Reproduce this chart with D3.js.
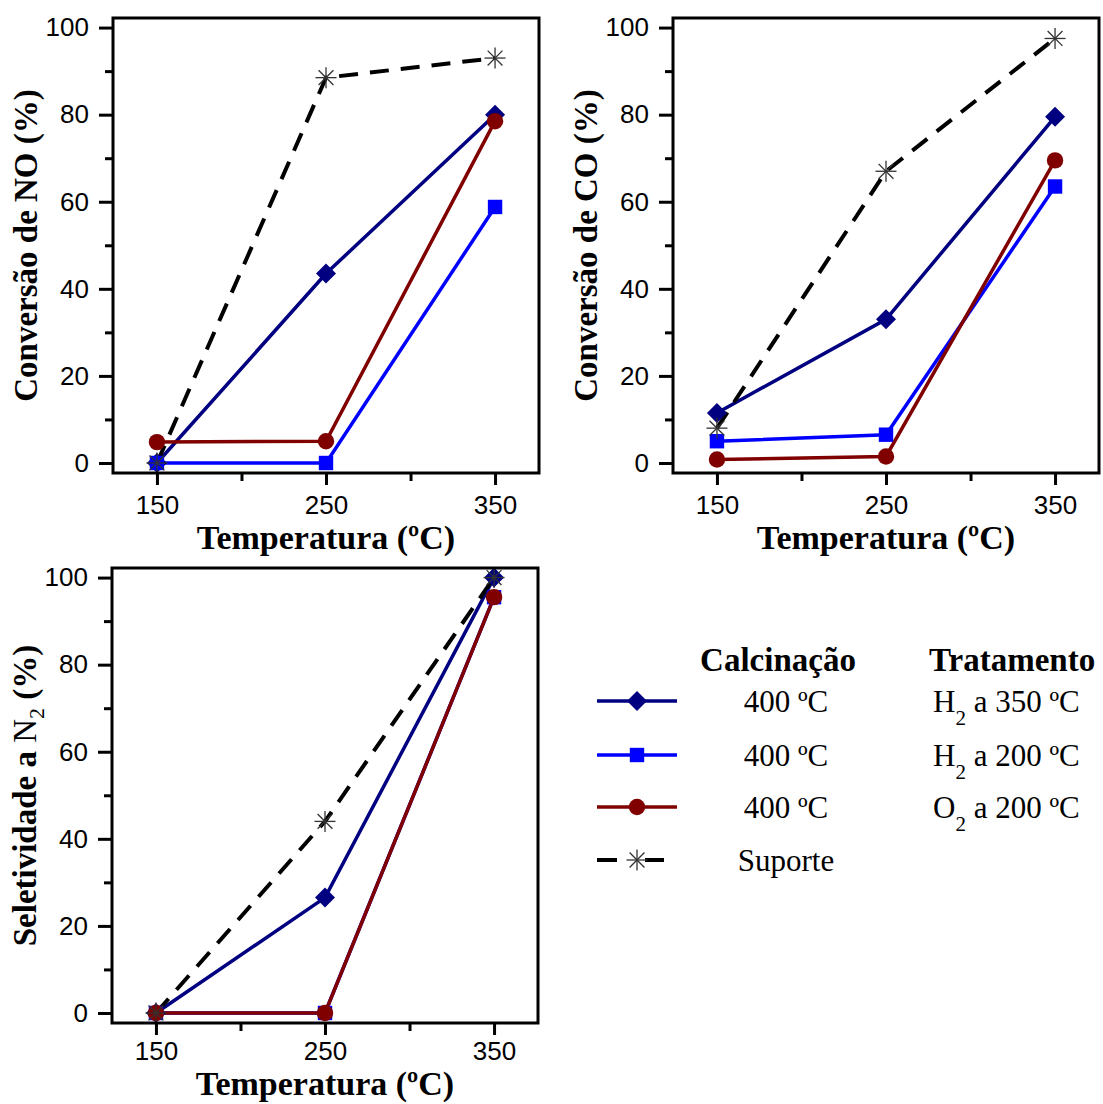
<!DOCTYPE html>
<html>
<head>
<meta charset="utf-8">
<script src="https://cdn.jsdelivr.net/npm/d3@7"></script>
<style>
  body { margin: 0; background: #fff; }
  svg { display: block; }
</style>
</head>
<body>
<div id="chart"></div>
<script>
// temperatures (ºC)
const temps = [150, 250, 350];

// Conversão de NO (%)
const noH2_350 = [0, 43.5, 80];
const noH2_200 = [0, 0, 58.8];
const noO2_200 = [4.8, 5.0, 78.5];
const noSuporte = [0, 88.5, 93];

// Conversão de CO (%)
const coH2_350 = [11.5, 33, 79.5];
const coH2_200 = [5, 6.5, 63.5];
const coO2_200 = [0.8, 1.5, 69.5];
const coSuporte = [8, 67, 97.5];

// Seletividade a N2 (%)
const n2H2_350 = [0, 26.5, 100];
const n2H2_200 = [0, 0, 95.5];
const n2O2_200 = [0, 0, 95.5];
const n2Suporte = [0, 44, 100];

const xTicks = [150, 250, 350];
const xMinor = [200, 300];
const yTicks = [0, 20, 40, 60, 80, 100];
const yMinor = [10, 30, 50, 70, 90];

const seriesStyle = [
  { name: "H2 a 350", color: "#000080", marker: "diamond" },
  { name: "H2 a 200", color: "#0000ff", marker: "square" },
  { name: "O2 a 200", color: "#800000", marker: "circle" },
  { name: "Suporte", color: "#000", marker: "star", dash: "19,12" }
];

const width = 1103, height = 1104;
const svg = d3.select("#chart").append("svg")
  .attr("width", width).attr("height", height);

const sansFont = "'Liberation Sans', Arial, sans-serif";
const serifFont = "'Liberation Serif', 'Times New Roman', serif";

function drawMarker(g, type, color, size) {
  if (type === "diamond") {
    g.append("path").attr("d", `M0,${-size}L${size},0L0,${size}L${-size},0Z`).attr("fill", color);
  } else if (type === "square") {
    let s = size * 0.72;
    g.append("rect").attr("x", -s).attr("y", -s).attr("width", 2 * s).attr("height", 2 * s).attr("fill", color);
  } else if (type === "circle") {
    g.append("circle").attr("r", size * 0.82).attr("fill", color);
  } else if (type === "star") {
    let r = size * 1.05;
    for (let a = 0; a < 4; a++) {
      let ang = a * Math.PI / 4;
      g.append("line")
        .attr("x1", -r * Math.cos(ang)).attr("y1", -r * Math.sin(ang))
        .attr("x2", r * Math.cos(ang)).attr("y2", r * Math.sin(ang))
        .attr("stroke", "#333").attr("stroke-width", 1.3);
    }
  }
}

function drawPanel(ox, oy, seriesData, titleParts, xTitleY, xPad) {
  const g = svg.append("g").attr("transform", `translate(${ox},${oy})`);
  const left = 113, right = 539, top = 18, bottom = 473;

  const x = d3.scaleLinear().domain([124, 376]).range([left, right]);
  const y = d3.scaleLinear().domain([-2.3, 102.2]).range([bottom, top]);

  // minor ticks
  g.append("g").attr("transform", `translate(0,${bottom})`)
    .call(d3.axisBottom(x).tickValues(xMinor).tickSize(8).tickSizeOuter(0).tickFormat(""))
    .call(a => a.select(".domain").remove());
  g.append("g").attr("transform", `translate(${left},0)`)
    .call(d3.axisLeft(y).tickValues(yMinor).tickSize(8).tickSizeOuter(0).tickFormat(""))
    .call(a => a.select(".domain").remove());

  // major ticks
  const xa = g.append("g").attr("transform", `translate(0,${bottom})`)
    .call(d3.axisBottom(x).tickValues(xTicks).tickSize(12).tickSizeOuter(0).tickPadding(xPad));
  const ya = g.append("g").attr("transform", `translate(${left},0)`)
    .call(d3.axisLeft(y).tickValues(yTicks).tickSize(14).tickSizeOuter(0).tickPadding(10));
  [xa, ya].forEach(a => {
    a.select(".domain").remove();
    a.selectAll("text").attr("font-family", sansFont).attr("font-size", 26).attr("fill", "#000");
  });
  g.selectAll(".tick line").attr("stroke", "#000").attr("stroke-width", 3);

  // series lines
  const line = d3.line().x((d, i) => x(temps[i])).y(d => y(d));
  seriesData.forEach((vals, k) => {
    const st = seriesStyle[k];
    g.append("path").datum(vals)
      .attr("d", line)
      .attr("fill", "none")
      .attr("stroke", st.color)
      .attr("stroke-width", st.dash ? 4 : 3.5)
      .attr("stroke-dasharray", st.dash || null);
  });
  seriesData.forEach((vals, k) => {
    const st = seriesStyle[k];
    vals.forEach((v, i) => {
      const m = g.append("g").attr("transform", `translate(${x(temps[i])},${y(v)})`);
      drawMarker(m, st.marker, st.color, 10);
    });
  });

  // frame
  g.append("rect")
    .attr("x", left).attr("y", top)
    .attr("width", right - left).attr("height", bottom - top)
    .attr("fill", "none").attr("stroke", "#000").attr("stroke-width", 3);

  // x title
  g.append("text")
    .attr("x", x(250)).attr("y", xTitleY)
    .attr("text-anchor", "middle")
    .attr("font-family", serifFont).attr("font-weight", "bold").attr("font-size", 34)
    .text("Temperatura (ºC)");

  // y title
  const yt = g.append("text")
    .attr("transform", `translate(37,${(top + bottom) / 2}) rotate(-90)`)
    .attr("text-anchor", "middle")
    .attr("font-family", serifFont).attr("font-weight", "bold").attr("font-size", 33);
  titleParts.forEach(p => {
    const t = yt.append("tspan").text(p.text);
    if (p.sub) t.attr("font-size", 22).attr("font-weight", "normal").attr("dy", 8);
    if (p.after) t.attr("dy", -8);
    if (p.normal) t.attr("font-weight", "normal");
  });
}

drawPanel(0, 0, [noH2_350, noH2_200, noO2_200, noSuporte], [{ text: "Conversão de NO (%)" }], 549, 11);
drawPanel(560, 0, [coH2_350, coH2_200, coO2_200, coSuporte], [{ text: "Conversão de CO (%)" }], 549, 11);
drawPanel(-1, 550, [n2H2_350, n2H2_200, n2O2_200, n2Suporte],
  [{ text: "Seletividade a " }, { text: "N", normal: true }, { text: "2", sub: true }, { text: " (%)", after: true }], 545, 7);

// legend
const calcinacao = ["400 ºC", "400 ºC", "400 ºC", "Suporte"];
const tratamento = [["H", "2", " a 350 ºC"], ["H", "2", " a 200 ºC"], ["O", "2", " a 200 ºC"]];
const rowY = [701, 755, 807, 860];

const lg = svg.append("g");
lg.append("text").attr("x", 778).attr("y", 671).attr("text-anchor", "middle")
  .attr("font-family", serifFont).attr("font-weight", "bold").attr("font-size", 33).text("Calcinação");
lg.append("text").attr("x", 929).attr("y", 671)
  .attr("font-family", serifFont).attr("font-weight", "bold").attr("font-size", 33).text("Tratamento");

seriesStyle.forEach((st, k) => {
  const yy = rowY[k];
  if (st.dash) {
    lg.append("line").attr("x1", 597).attr("x2", 617).attr("y1", yy).attr("y2", yy)
      .attr("stroke", st.color).attr("stroke-width", 4);
    lg.append("line").attr("x1", 645).attr("x2", 664).attr("y1", yy).attr("y2", yy)
      .attr("stroke", st.color).attr("stroke-width", 4);
  } else {
    lg.append("line").attr("x1", 597).attr("x2", 677).attr("y1", yy).attr("y2", yy)
      .attr("stroke", st.color).attr("stroke-width", 3.5);
  }
  const m = lg.append("g").attr("transform", `translate(637,${yy})`);
  drawMarker(m, st.marker, st.color, 10);

  lg.append("text").attr("x", 786).attr("y", yy + 11).attr("text-anchor", "middle")
    .attr("font-family", serifFont).attr("font-size", 31).text(calcinacao[k]);

  if (k < tratamento.length) {
    const t = lg.append("text").attr("x", 933).attr("y", yy + 11)
      .attr("font-family", serifFont).attr("font-size", 31);
    t.append("tspan").text(tratamento[k][0]);
    t.append("tspan").attr("font-size", 21).attr("dy", 13).text(tratamento[k][1]);
    t.append("tspan").attr("dy", -13).text(tratamento[k][2]);
  }
});
</script>
</body>
</html>
